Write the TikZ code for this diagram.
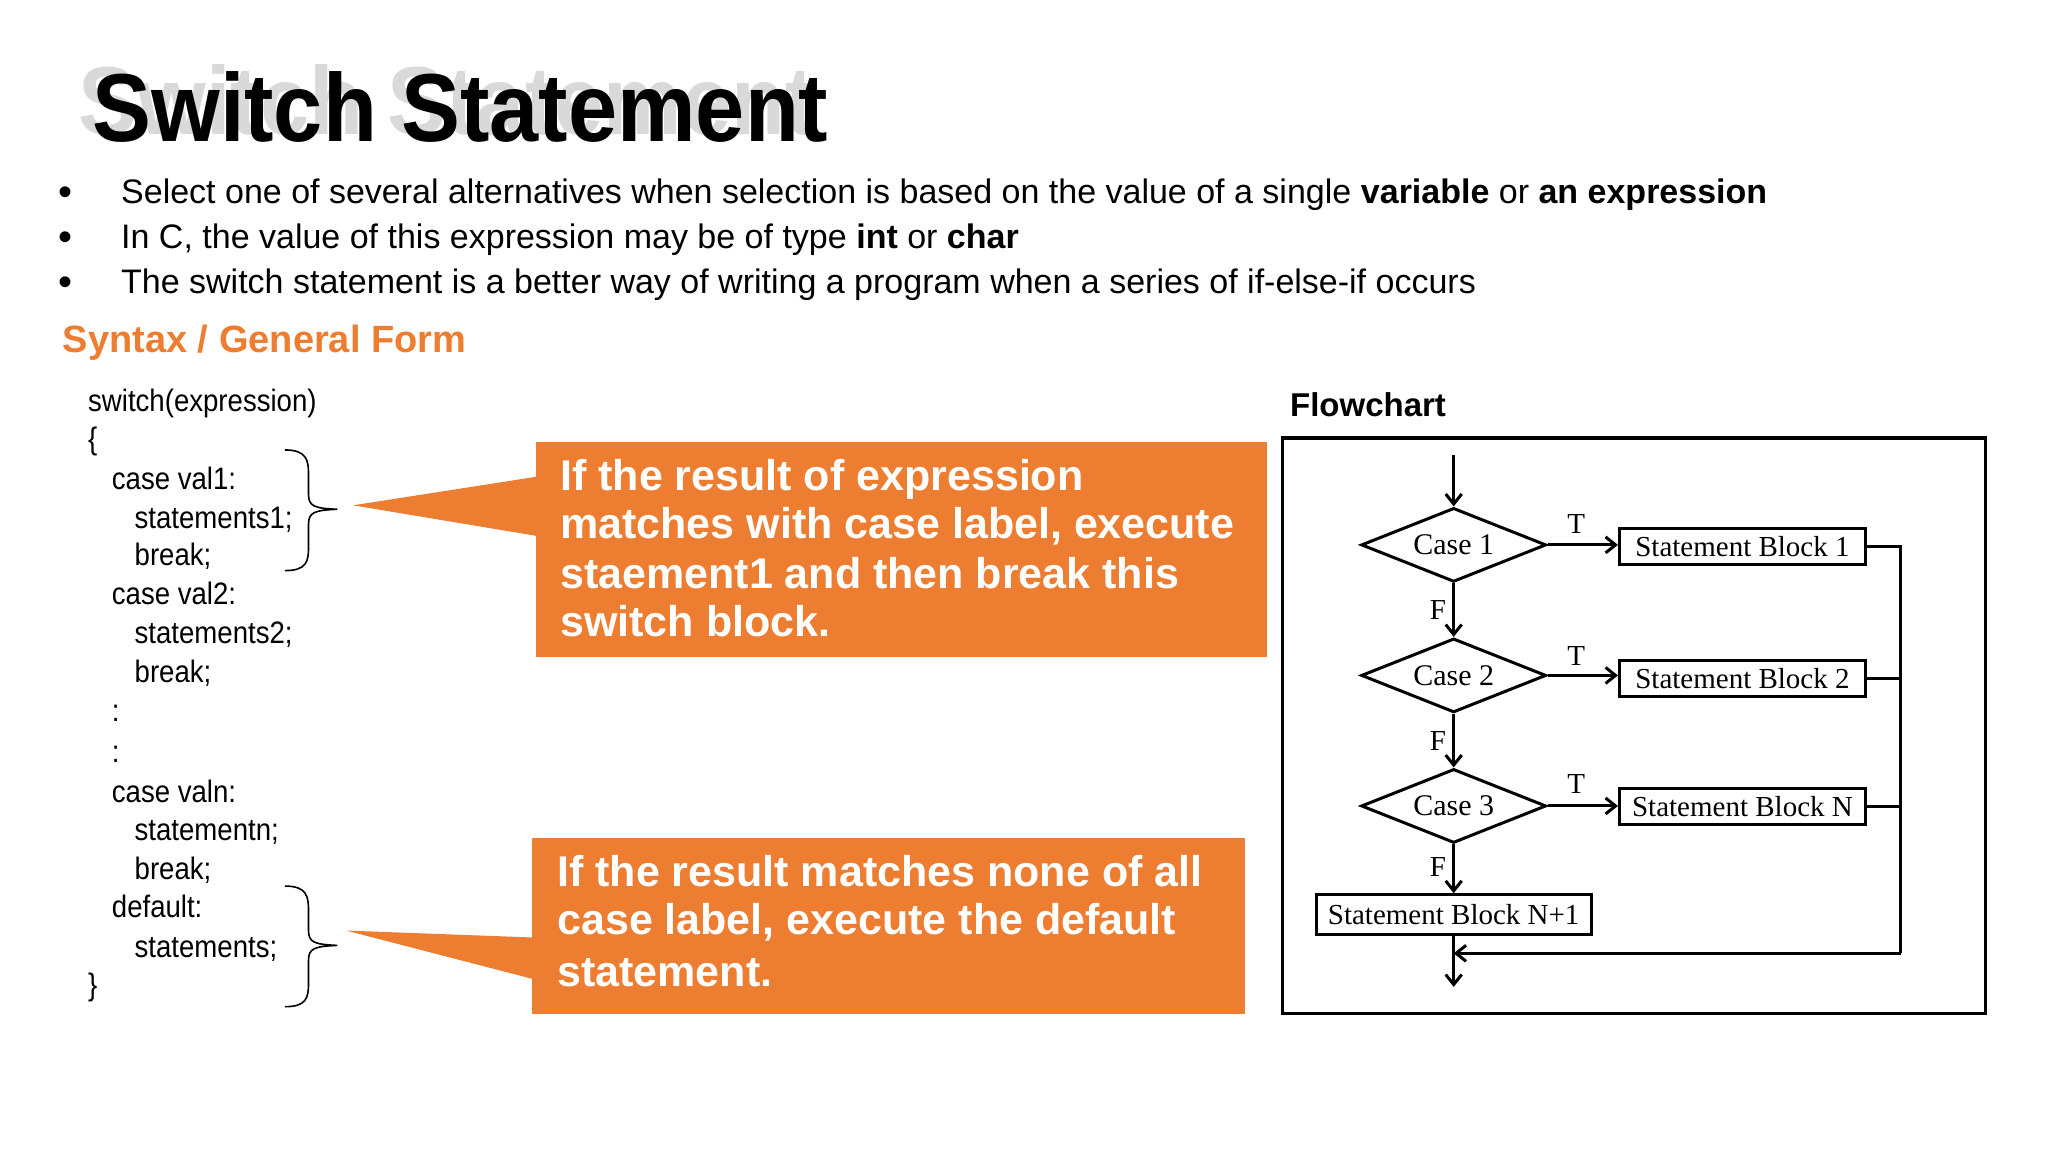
\documentclass[tikz,border=0pt]{standalone}
\usepackage{fontspec}
\setmainfont{Liberation Sans}
\newfontfamily\fcserif{Liberation Serif}
\usetikzlibrary{shapes.geometric,arrows.meta}
\definecolor{orng}{HTML}{ED7D31}
\begin{document}
\begin{tikzpicture}[x=0.989pt,y=-0.989pt,
  bul/.style={anchor=base west,font=\fontsize{34}{36}\selectfont},
  dot/.style={anchor=base west,font=\fontsize{40}{36}\selectfont},
  code/.style={anchor=base west,font=\fontsize{31}{36}\selectfont,xscale=0.89,transform shape},
  call/.style={anchor=base west,text=white,font=\bfseries\fontsize{43}{48}\selectfont},
  dia/.style={diamond,draw,line width=3pt,minimum width=185pt,minimum height=74pt,aspect=2.5,inner sep=0pt,font=\fcserif\fontsize{30}{30}\selectfont},
  blk/.style={rectangle,draw,line width=3pt,minimum height=36pt,inner sep=4pt,font=\fcserif\fontsize{29}{30}\selectfont},
  fl/.style={line width=3pt},
  arr/.style={fl,-{Straight Barb[length=10pt,width=16pt]}},
  lab/.style={font=\fcserif\fontsize{29}{30}\selectfont}]
\useasboundingbox (0,0) rectangle (2071,1165);
% title
\node[anchor=base west,text=black!15,font=\bfseries\fontsize{92}{100}\selectfont,xscale=0.96,yscale=1.05,transform shape] (tsh) at (76,136) {Switch Statement};
\node[anchor=base west,font=\bfseries\fontsize{92}{100}\selectfont,xscale=0.96,yscale=1.05,transform shape] (title) at (90,143) {Switch Statement};
% bullets
\node[dot] (b1d) at (56,208) {•};
\node[bul] (b1) at (119,206) {Select one of several alternatives when selection is based on the value of a single \textbf{variable} or \textbf{an expression}};
\node[dot] (b2d) at (56,253) {•};
\node[bul] (b2) at (119,251) {In C, the value of this expression may be of type \textbf{int} or \textbf{char}};
\node[dot] (b3d) at (56,299) {•};
\node[bul] (b3) at (119,297) {The switch statement is a better way of writing a program when a series of if-else-if occurs};
\node[anchor=base west,text=orng,font=\bfseries\fontsize{38}{40}\selectfont] (syn) at (60,356) {Syntax / General Form};
% code
\node[code] (c1) at (86,416) {switch(expression)};
\node[code] (c2) at (86,455) {\{};
\node[code] (c3) at (110,495) {case val1:};
\node[code] (c4) at (133,534) {statements1;};
\node[code] (c5) at (133,572) {break;};
\node[code] (c6) at (110,611) {case val2:};
\node[code] (c7) at (133,651) {statements2;};
\node[code] (c8) at (133,690) {break;};
\node[code] (c9) at (110,730) {:};
\node[code] (c10) at (110,771) {:};
\node[code] (c11) at (110,812) {case valn:};
\node[code] (c12) at (133,850) {statementn;};
\node[code] (c13) at (133,889) {break;};
\node[code] (c14) at (110,928) {default:};
\node[code] (c15) at (133,968) {statements;};
\node[code] (c16) at (86,1007) {\}};
% braces
\draw[line width=1.6pt] (288,455) .. controls (310,455) and (312,465) .. (312,480) -- (312,500) .. controls (312,512) and (318,514) .. (341,515)
  .. controls (318,516) and (312,518) .. (312,530) -- (312,553) .. controls (312,568) and (310,577) .. (288,577);
\draw[line width=1.6pt] (288,896) .. controls (310,896) and (312,906) .. (312,921) -- (312,941) .. controls (312,953) and (318,955) .. (341,956)
  .. controls (318,957) and (312,959) .. (312,971) -- (312,994) .. controls (312,1009) and (310,1018) .. (288,1018);
% callouts
\fill[orng] (542,447) rectangle (1281,664);
\fill[orng] (357,511) -- (543,482) -- (543,542) -- cycle;
\node[call] (k1) at (563,496) {If the result of expression};
\node[call] (k2) at (563,545) {matches with case label, execute};
\node[call] (k3) at (563,595) {staement1 and then break this};
\node[call] (k4) at (563,644) {switch block.};
\fill[orng] (538,847) rectangle (1259,1025);
\fill[orng] (350,941) -- (539,948) -- (539,990) -- cycle;
\node[call] (m1) at (560,896) {If the result matches none of all};
\node[call] (m2) at (560,945) {case label, execute the default};
\node[call] (m3) at (560,998) {statement.};
% flowchart
\node[anchor=base west,font=\bfseries\fontsize{33}{34}\selectfont] (fc) at (1301,421) {Flowchart};
\draw[line width=3.2pt] (1297,443) rectangle (2008,1025);
\coordinate (st) at (1470,460);
\node[dia] (d1) at (1470,551) {Case 1};
\node[dia] (d2) at (1470,683) {Case 2};
\node[dia] (d3) at (1470,815) {Case 3};
\node[blk,minimum width=246pt] (s1) at (1762,553) {Statement Block 1};
\node[blk,minimum width=246pt] (s2) at (1762,686) {Statement Block 2};
\node[blk,minimum width=246pt] (s3) at (1762,816) {Statement Block N};
\node[blk,minimum width=275pt,minimum height=40pt] (s4) at (1470,925) {Statement Block N+1};
\coordinate (rt) at (1922,553);
\coordinate (rb) at (1922,964);
\coordinate (mj) at (1470,964);
\coordinate (en) at (1470,998);
\draw[arr] (st) -- (d1.north);
\draw[arr] (d1.south) -- (d2.north);
\draw[arr] (d2.south) -- (d3.north);
\draw[arr] (d3.south) -- (s4.north);
\draw[arr] (d1.east) -- (d1.east -| s1.west);
\draw[arr] (d2.east) -- (d2.east -| s2.west);
\draw[arr] (d3.east) -- (d3.east -| s3.west);
\draw[fl] (s1.east) -- (s1.east -| rt) -- (rb);
\draw[fl] (s2.east) -- (s2.east -| rt);
\draw[fl] (s3.east) -- (s3.east -| rt);
\draw[arr] (rb) -- (mj);
\draw[arr] (s4.south) -- (en);
\node[lab] (t1) at (1594,530) {T};
\node[lab] (t2) at (1594,663) {T};
\node[lab] (t3) at (1594,793) {T};
\node[lab] (f1) at (1454,617) {F};
\node[lab] (f2) at (1454,749) {F};
\node[lab] (f3) at (1454,877) {F};
\end{tikzpicture}
\end{document}
